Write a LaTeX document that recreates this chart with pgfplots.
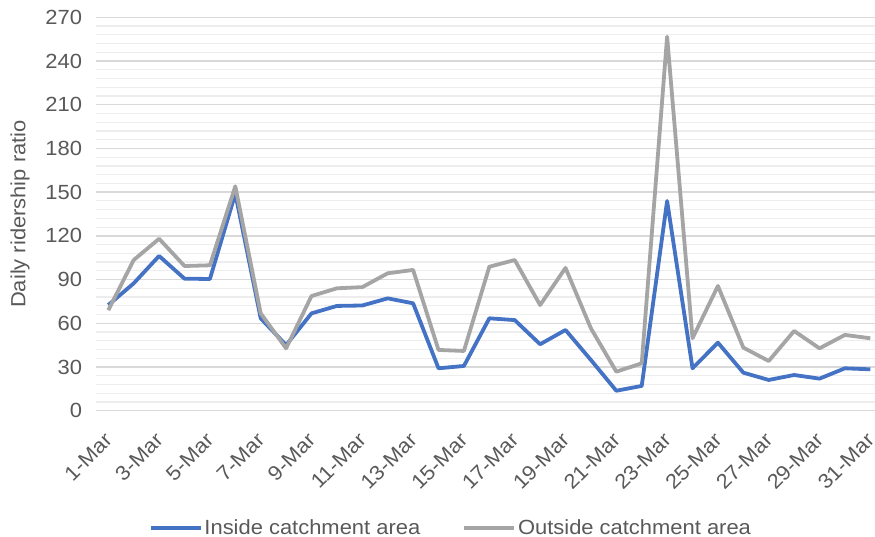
\documentclass[border=0pt]{standalone}
\usepackage{pgfplots}
\pgfplotsset{compat=1.18}
\usepackage{fontspec}
\setmainfont{Liberation Sans}[FakeStretch=1.07]
\definecolor{blueS}{HTML}{4472C4}
\definecolor{grayS}{HTML}{A5A5A5}
\definecolor{txt}{HTML}{595959}
\definecolor{majg}{HTML}{D9D9D9}
\definecolor{ming}{HTML}{EDEDED}
\newcommand{\lblfont}{\fontsize{20.5}{24}\selectfont}
\begin{document}
\begin{tikzpicture}[x=1pt,y=1pt]
\useasboundingbox (0,0) rectangle (875,537);
\begin{axis}[
  at={(95.6pt,126.3pt)}, anchor=south west,
  scale only axis, width=779.8pt, height=393.4pt,
  xmin=-0.5, xmax=30.2, ymin=0, ymax=270,
  ytick={0,30,...,270},
  minor y tick num=4,
  xtick={0,2,...,30},
  xticklabels={1-Mar,3-Mar,5-Mar,7-Mar,9-Mar,11-Mar,13-Mar,15-Mar,17-Mar,19-Mar,21-Mar,23-Mar,25-Mar,27-Mar,29-Mar,31-Mar},
  xticklabel style={xshift=-5pt, yshift=-16pt, rotate=45, anchor=north east, font=\lblfont, text=txt},
  yticklabel style={font=\lblfont, text=txt, xshift=-10pt},
  /pgf/number format/assume math mode=true,
  ymajorgrids, yminorgrids,
  major grid style={majg, line width=1.5pt},
  minor grid style={ming, line width=1.2pt},
  axis line style={draw=none},
  major tick length=0pt, minor tick length=0pt,
  ylabel={Daily ridership ratio},
  ylabel style={at={(axis description cs:-0.0968,0.5)}, anchor=center, font=\lblfont, text=txt},
  legend columns=2,
  legend style={at={(0.4555,-0.2975)}, anchor=center, draw=none, fill=none,
    font=\lblfont, text=txt,
    /tikz/every even column/.append style={column sep=40pt}},
  legend image code/.code={\draw[#1] (-2pt,0pt) -- (48pt,0pt);},
  clip=false,
]
\addplot[blueS, line width=3.8pt, line join=round] coordinates {
(0,72.5)(1,87.4)(2,106.2)(3,90.6)(4,90.4)(5,149)(6,63.4)(7,45)(8,66.8)(9,71.9)
(10,72.2)(11,77.1)(12,73.7)(13,29.1)(14,30.7)(15,63.4)(16,62.2)(17,45.6)(18,55.4)(19,34.8)
(20,13.7)(21,17)(22,143.9)(23,29.1)(24,46.7)(25,26.1)(26,21.1)(27,24.5)(28,22)(29,29.1)(30,28.4)};
\addlegendentry{Inside catchment area}
\addplot[grayS, line width=3.8pt, line join=round] coordinates {
(0,69)(1,103.4)(2,118)(3,99.3)(4,99.8)(5,154)(6,66.8)(7,42.8)(8,78.7)(9,84)
(10,84.8)(11,94.3)(12,96.6)(13,41.7)(14,41)(15,98.8)(16,103.4)(17,72.5)(18,98)(19,56.5)
(20,26.8)(21,32.5)(22,256.7)(23,49.7)(24,85.6)(25,43.3)(26,34.1)(27,54.7)(28,42.8)(29,52)(30,49.7)};
\addlegendentry{Outside catchment area}
\end{axis}
\end{tikzpicture}
\end{document}
